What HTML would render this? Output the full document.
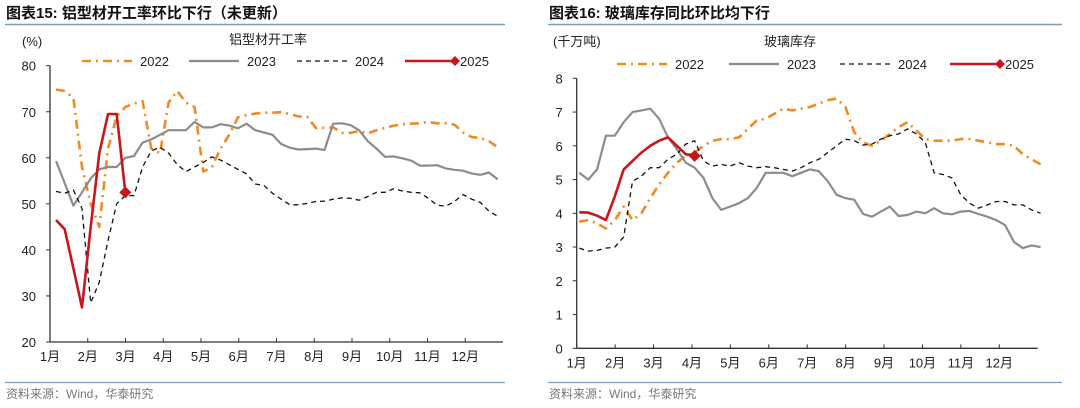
<!DOCTYPE html>
<html><head><meta charset="utf-8"><style>
body{margin:0;width:1080px;height:408px;background:#fff;overflow:hidden;font-family:"Liberation Sans","Noto Sans CJK SC",sans-serif}
svg{position:absolute;left:0;top:0}
</style></head><body>
<svg id="s" width="1080" height="408" font-family="Liberation Sans, Noto Sans CJK SC, sans-serif">
<text x="6" y="18" font-size="15" font-weight="bold" fill="#111">图表15:  铝型材开工率环比下行（未更新）</text>
<line x1="5" y1="24.5" x2="505" y2="24.5" stroke="#7f9cba" stroke-width="1.5"/>
<text x="549" y="18" font-size="15" font-weight="bold" fill="#111">图表16:  玻璃库存同比环比均下行</text>
<line x1="548" y1="24.5" x2="1062" y2="24.5" stroke="#7f9cba" stroke-width="1.5"/>
<text x="22" y="46" font-size="13" fill="#222">(%)</text>
<text x="268" y="44" font-size="13" fill="#222" text-anchor="middle">铝型材开工率</text>
<text x="553" y="46" font-size="13" fill="#222">(千万吨)</text>
<text x="790" y="46" font-size="13" fill="#222" text-anchor="middle">玻璃库存</text>
<line x1="5" y1="382.5" x2="505" y2="382.5" stroke="#7f9cba" stroke-width="1.2"/>
<line x1="548" y1="382.5" x2="1062" y2="382.5" stroke="#7f9cba" stroke-width="1.2"/>
<text x="6" y="398" font-size="12" fill="#777">资料来源：Wind，华泰研究</text>
<text x="549" y="398" font-size="12" fill="#777">资料来源：Wind，华泰研究</text>
<g id="L"></g><g id="R"></g>
</svg>
<script>
const months=["1月","2月","3月","4月","5月","6月","7月","8月","9月","10月","11月","12月"];
const leftTicks=[20,30,40,50,60,70,80];
const rightTicks=[0,1,2,3,4,5,6,7,8];
const series=["2022","2023","2024","2025"];
const alu2022=[74.8,74.5,73,58,50,45,62,69,71,71.8,72.3,62,61,72,74.5,72,71,57,58,62,65,68.8,69.3,69.6,69.8,69.8,69.9,69.5,69,68.9,66.5,66.5,66.6,65.4,65.4,65.8,65.3,66,66.5,67,67.3,67.4,67.5,67.8,67.5,67.5,67.2,65.5,64.5,64.3,63.6,62.3];
const alu2023=[59.3,54.5,49.6,52.5,55.5,57.5,58,58,60,60.4,63.3,64,65,66,66,66,67.8,66.6,66.6,67.3,67,66.4,67.4,66,65.5,65,63,62.2,61.8,61.9,62,61.7,67.4,67.5,67.1,66,63.6,62,60.2,60.3,59.9,59.4,58.3,58.3,58.4,57.7,57.4,57.2,56.6,56.3,56.8,55.3];
const alu2024=[52.7,52.3,53,49,28.5,33,42,50,51.8,51.8,58,61.5,62.3,61,58.5,57,58,59,60.2,59.5,58.5,57.5,56.5,54.3,54,52.3,51,49.8,49.8,50.1,50.5,50.6,51,51.3,51.2,50.8,51.6,52.5,52.5,53.3,52.8,52.5,52.4,51.2,49.7,49.5,50.5,52,51,50.3,48.4,47.3];
const alu2025=[46.5,44.5,36,27.5,45,61,69.5,69.5,52.5];
const glass2022=[3.75,3.8,3.7,3.55,3.8,4.2,3.8,4.0,4.45,4.85,5.2,5.5,5.7,5.8,6.0,6.15,6.2,6.2,6.25,6.5,6.75,6.8,6.95,7.1,7.05,7.1,7.15,7.25,7.35,7.4,7.15,6.4,6.1,6.0,6.15,6.35,6.55,6.7,6.45,6.2,6.15,6.15,6.15,6.2,6.2,6.15,6.1,6.05,6.05,6.0,5.75,5.6,5.45];
const glass2023=[5.2,5.0,5.3,6.3,6.3,6.7,7.0,7.05,7.1,6.8,6.25,5.9,5.5,5.35,5.05,4.45,4.1,4.2,4.3,4.45,4.75,5.2,5.2,5.2,5.1,5.2,5.3,5.25,4.95,4.55,4.45,4.4,3.98,3.9,4.05,4.2,3.92,3.95,4.05,4.0,4.15,4.0,3.97,4.05,4.07,3.98,3.9,3.8,3.65,3.15,2.97,3.05,3.0];
const glass2024=[2.97,2.88,2.9,2.97,3.0,3.3,4.95,5.1,5.35,5.35,5.6,5.75,6.05,6.15,5.55,5.4,5.45,5.4,5.5,5.4,5.35,5.38,5.35,5.3,5.25,5.35,5.5,5.6,5.8,6.0,6.2,6.15,6.02,6.05,6.2,6.3,6.35,6.5,6.35,6.1,5.2,5.15,5.05,4.55,4.3,4.15,4.25,4.35,4.35,4.25,4.25,4.1,4.0];
const glass2025=[4.03,4.02,3.93,3.8,4.5,5.3,5.55,5.8,6.0,6.15,6.25,6.0,5.75,5.7];

const NS="http://www.w3.org/2000/svg";
function mk(parent,tag,attrs){const e=document.createElementNS(NS,tag);for(const k in attrs)e.setAttribute(k,attrs[k]);parent.appendChild(e);return e;}
const styles={"2022":{stroke:"#f08a24",w:2.6,dash:"9,5,2,5"},"2023":{stroke:"#8c8c8c",w:2.2,dash:""},"2024":{stroke:"#111",w:1.3,dash:"5,4"},"2025":{stroke:"#c8161d",w:2.6,dash:""}};

function chart(g,cfg){
  const xS=m=>cfg.x0+(cfg.x1-cfg.x0)*m/12;
  const yS=v=>cfg.y1-(cfg.y1-cfg.y0)*(v-cfg.vmin)/(cfg.vmax-cfg.vmin);
  const wk=i=>xS(cfg.off+i*cfg.step);
  let e=mk(g,"line",{x1:cfg.x0,y1:cfg.y0,x2:cfg.x0,y2:cfg.y1,stroke:"#333","stroke-width":1.3});
  
  
  e=mk(g,"line",{x1:cfg.x0,y1:cfg.y1,x2:cfg.x1,y2:cfg.y1,stroke:"#333","stroke-width":1.3});
  
  
  cfg.ticks.forEach(t=>{
    const y=yS(t);
    mk(g,"line",{x1:cfg.x0-4,y1:y,x2:cfg.x0,y2:y,stroke:"#333"});
    const tx=mk(g,"text",{x:cfg.x0-14,y:y+5,"font-size":13,fill:"#222","text-anchor":"end"});
    tx.textContent=t;
    
    
  });
  months.forEach((m,i)=>{
    const x=xS(i);
    mk(g,"line",{x1:x,y1:cfg.y1-4,x2:x,y2:cfg.y1,stroke:"#333"});
    const tx=mk(g,"text",{x:x,y:cfg.y1+19,"font-size":13,fill:"#222","text-anchor":"middle"});
    tx.textContent=m;
    
    
  });
  cfg.data.forEach((arr,k)=>{
    const s=styles[series[k]];
    const d=arr.map((v,i)=>(i?"L":"M")+wk(i).toFixed(1)+","+yS(v).toFixed(1)).join("");
    const p=mk(g,"path",{d:d,fill:"none",stroke:s.stroke,"stroke-width":s.w,"stroke-dasharray":s.dash,"stroke-linejoin":"round"});
    
    
    if(series[k]==="2025"){
      const i=arr.length-1,x=wk(i),y=yS(arr[i]);
      const m=mk(g,"path",{d:`M${x},${y-6}L${x+6},${y}L${x},${y+6}L${x-6},${y}Z`,fill:"#c8161d"});
      
      
    }
  });
  cfg.legend.forEach((lx,k)=>{
    const s=styles[series[k]];
    const ly=cfg.ly;
    const l=mk(g,"line",{x1:lx,y1:ly,x2:lx+50,y2:ly,stroke:s.stroke,"stroke-width":s.w,"stroke-dasharray":s.dash});
    
    
    if(series[k]==="2025"){
      const m=mk(g,"path",{d:`M${lx+50},${ly-5}L${lx+55},${ly}L${lx+50},${ly+5}L${lx+45},${ly}Z`,fill:"#c8161d"});
      
      
    }
    const t=mk(g,"text",{x:lx+(series[k]==="2025"?55:58),y:ly+5,"font-size":13,fill:"#222"});
    t.textContent=series[k];
    
    
  });
}
chart(document.getElementById("L"),{x0:50,x1:503,y0:65.7,y1:342,vmin:20,vmax:80,ticks:leftTicks,off:0.16,step:0.2294,data:[alu2022,alu2023,alu2024,alu2025],legend:[82,189,297,405],ly:61});
chart(document.getElementById("R"),{x0:576.7,x1:1037.7,y0:78.3,y1:348.3,vmin:0,vmax:8,ticks:rightTicks,off:0.068,step:0.2309,data:[glass2022,glass2023,glass2024,glass2025],legend:[617,729,840,950],ly:64});
</script>
</body></html>
